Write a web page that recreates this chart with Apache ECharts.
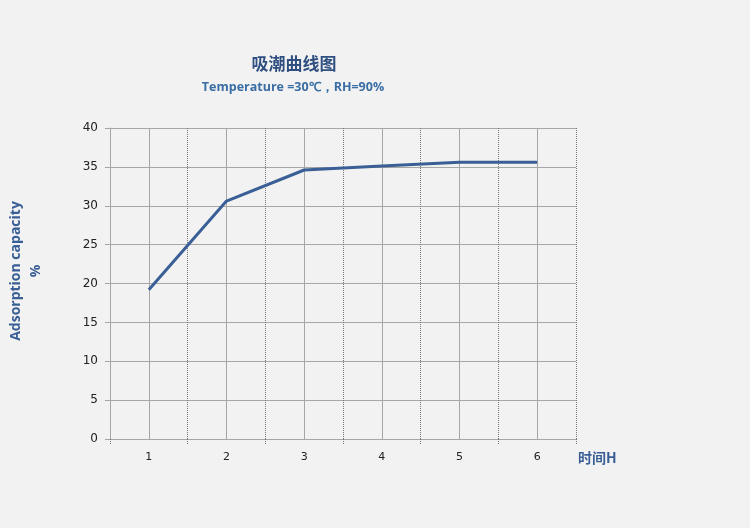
<!DOCTYPE html>
<html>
<head>
<meta charset="utf-8">
<script src="https://cdn.jsdelivr.net/npm/echarts@6/dist/echarts.min.js"></script>
<style>html,body{margin:0;padding:0;background:#f2f2f2;}#c{width:750px;height:528px;}</style>
</head>
<body>
<div id="c"></div>
<script>
const categories = ['1', '2', '3', '4', '5', '6'];
const adsorption = [19.2, 30.6, 34.6, 35.1, 35.6, 35.6];
const yTicks = { min: 0, max: 40, interval: 5 };
const titleText = '吸潮曲线图';
const subtitleText = 'Temperature =30℃，RH=90%';
const yName = 'Adsorption capacity\n%';
const xName = '时间H';

const chart = echarts.init(document.getElementById('c'));
chart.setOption({
  backgroundColor: '#f2f2f2',
  animation: false,
  title: [{
    text: titleText,
    left: 289, textAlign: 'center', top: 50,
    textStyle: { fontFamily: 'Noto Sans CJK SC', fontSize: 17, fontWeight: 'bold', color: '#2f4f80' }
  }, {
    text: subtitleText,
    left: 288, textAlign: 'center', top: 76,
    textStyle: { fontFamily: 'Open Sans', fontSize: 12.5, fontWeight: 'bold', color: '#3a6ea5' }
  }],
  grid: { left: 110, right: 174, top: 128, bottom: 89 },
  xAxis: {
    type: 'category',
    data: categories,
    boundaryGap: true,
    axisLine: { show: true, lineStyle: { color: '#a6a6a6', width: 1 } },
    axisTick: { show: true, length: 5, lineStyle: { color: '#777', type: 'dotted' } },
    axisLabel: { margin: 13, fontSize: 11, color: '#222', fontFamily: 'DejaVu Sans' },
    splitLine: { show: true, lineStyle: { color: '#777', type: 'dotted', width: 1 } }
  },
  yAxis: {
    type: 'value',
    min: yTicks.min, max: yTicks.max, interval: yTicks.interval,
    axisLine: { show: true, lineStyle: { color: '#a6a6a6', width: 1 } },
    axisTick: { show: true, length: 5, lineStyle: { color: '#a6a6a6' } },
    axisLabel: { margin: 12, fontSize: 12, color: '#222', fontFamily: 'DejaVu Sans' },
    splitLine: { show: true, lineStyle: { color: '#a6a6a6', width: 1 } }
  },
  graphic: [
    { type: 'text', x: 26, y: 271, rotation: Math.PI / 2,
      style: { text: yName, textAlign: 'center', textVerticalAlign: 'middle',
        font: 'bold 14px "Open Sans"', fill: '#3a5f96', lineHeight: 20 } },
    { type: 'text', x: 578, y: 451,
      style: { text: xName, font: 'bold 14px "Noto Sans CJK SC"', fill: '#3a5f96' } }
  ],
  series: [{
    type: 'line',
    data: adsorption,
    showSymbol: false,
    symbol: 'none',
    lineStyle: { color: '#3a5f96', width: 3 },
    markLine: {
      silent: true, symbol: 'none', label: { show: false },
      lineStyle: { color: '#a6a6a6', type: 'solid', width: 1 },
      data: categories.map(c => ({ xAxis: c }))
    },
    z: 5
  }]
});
</script>
</body>
</html>
